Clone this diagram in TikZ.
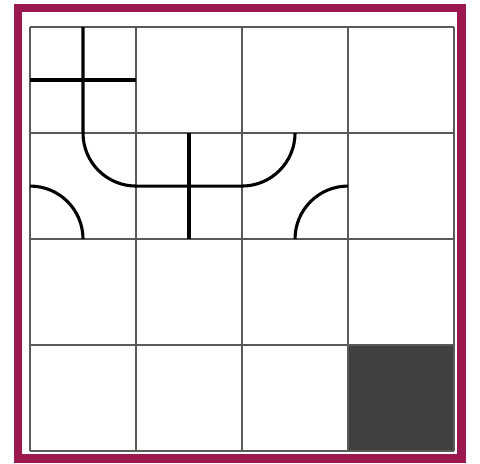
\documentclass[tikz,border=0pt]{standalone}
\usepackage{tikz}
\definecolor{framecol}{RGB}{155,24,80}

\begin{document}
\begin{tikzpicture}[x=2.65cm, y=2.65cm,
  gridline/.style={draw=black!65, line width=0.9pt},
  track/.style={draw=black, line width=2.2pt},
  frame/.style={draw=framecol, line width=0.2125cm}]
\useasboundingbox (-0.283,-0.113) rectangle (4.245,4.255);
\draw[frame] (-0.113,-0.071) rectangle (4.071,4.179);
% shaded square
\fill[black!75] (3,0) rectangle (4,1);
\foreach \i in {0,...,4} {
  \draw[gridline] (\i,0) -- (\i,4);
  \draw[gridline] (0,\i) -- (4,\i);
}
% tracks
\draw[track] (0,3.5) -- (1,3.5);
\draw[track] (0.5,4) -- (0.5,3) arc[start angle=180, end angle=270, radius=0.5]
  -- (2,2.5) arc[start angle=270, end angle=360, radius=0.5];
\draw[track] (1.5,3) -- (1.5,2);
\draw[track] (0,2.5) arc[start angle=90, end angle=0, radius=0.5];
\draw[track] (3,2.5) arc[start angle=90, end angle=180, radius=0.5];
\end{tikzpicture}
\end{document}
